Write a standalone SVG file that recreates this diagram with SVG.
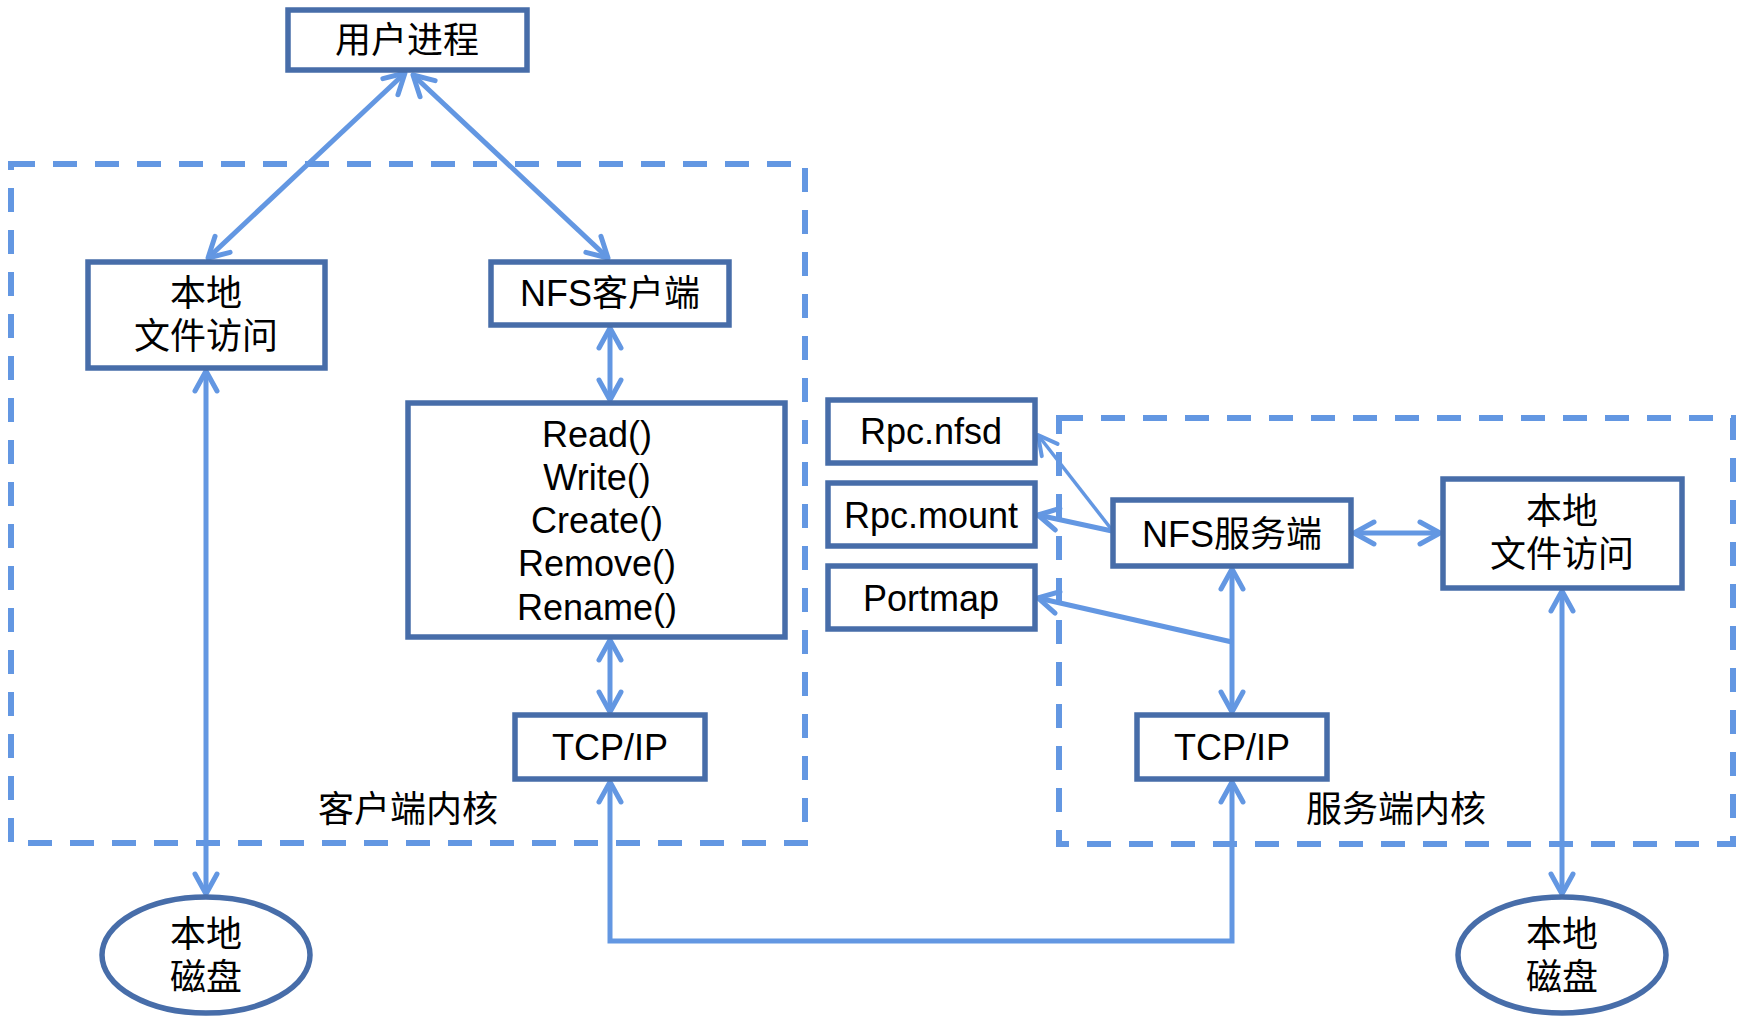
<svg xmlns="http://www.w3.org/2000/svg" width="1743" height="1021" viewBox="0 0 1743 1021">
<defs>
<style>
.box{fill:#fff;stroke:#476DA9;stroke-width:5.5}
.dash{fill:none;stroke:#6397E2;stroke-width:6;stroke-dasharray:24 18}
.c{fill:none;stroke:#6397E2;stroke-width:5}
.thin{fill:none;stroke:#6397E2;stroke-width:3.5}
text{font-family:"Liberation Sans","Noto Sans CJK SC",sans-serif;font-size:36px;fill:#000;text-anchor:middle}
</style>
<marker id="a" markerUnits="userSpaceOnUse" viewBox="-25 -15 30 30" refX="0" refY="0" markerWidth="30" markerHeight="30" orient="auto-start-reverse">
<path d="M-20,-11 L0,0 L-20,11" fill="none" stroke="#6397E2" stroke-width="5" stroke-linecap="round" stroke-linejoin="round"/>
</marker>
<marker id="b" markerUnits="userSpaceOnUse" viewBox="-25 -15 30 30" refX="0" refY="0" markerWidth="30" markerHeight="30" orient="auto-start-reverse">
<path d="M-19,-10 L0,0 L-19,10" fill="none" stroke="#6397E2" stroke-width="4" stroke-linecap="round" stroke-linejoin="round"/>
</marker>
</defs>
<rect width="1743" height="1021" fill="#fff"/>

<g id="client-kernel">
<rect class="dash" x="11" y="164" width="794" height="679"/>
<text x="408" y="822">客户端内核</text>
</g>
<g id="server-kernel">
<rect class="dash" x="1059" y="418" width="674" height="426"/>
<text x="1396" y="822">服务端内核</text>
</g>

<g id="connectors">
<line class="c" x1="405" y1="73" x2="208" y2="258" marker-start="url(#a)" marker-end="url(#a)"/>
<line class="c" x1="413" y1="75" x2="608" y2="258" marker-start="url(#a)" marker-end="url(#a)"/>
<line class="c" x1="610" y1="328" x2="610" y2="400" marker-start="url(#a)" marker-end="url(#a)"/>
<line class="c" x1="610" y1="640" x2="610" y2="712" marker-start="url(#a)" marker-end="url(#a)"/>
<path class="c" d="M610,782 V941 H1232 V782" marker-start="url(#a)" marker-end="url(#a)"/>
<line class="c" x1="1232" y1="569" x2="1232" y2="712" marker-start="url(#a)" marker-end="url(#a)"/>
<line class="c" x1="1232" y1="642" x2="1038" y2="598" marker-end="url(#a)"/>
<line class="c" x1="1112" y1="531" x2="1038" y2="515" marker-end="url(#a)"/>
<line class="thin" x1="1112" y1="530" x2="1038" y2="435" marker-end="url(#b)"/>
<line class="c" x1="1354" y1="533" x2="1440" y2="533" marker-start="url(#a)" marker-end="url(#a)"/>
<line class="c" x1="1562" y1="591" x2="1562" y2="894" marker-start="url(#a)" marker-end="url(#a)"/>
<line class="c" x1="206" y1="371" x2="206" y2="894" marker-start="url(#a)" marker-end="url(#a)"/>
</g>

<g id="user-process">
<rect class="box" x="288" y="10" width="239" height="60"/>
<text x="407" y="53">用户进程</text>
</g>
<g id="client-local-fs">
<rect class="box" x="88" y="262" width="237" height="106"/>
<text x="206" y="306">本地</text>
<text x="206" y="349">文件访问</text>
</g>
<g id="nfs-client">
<rect class="box" x="491" y="262" width="238" height="63"/>
<text x="610" y="306">NFS客户端</text>
</g>
<g id="ops">
<rect class="box" x="408" y="403" width="377" height="234"/>
<text x="597" y="447">Read()</text>
<text x="597" y="490">Write()</text>
<text x="597" y="533">Create()</text>
<text x="597" y="576">Remove()</text>
<text x="597" y="620">Rename()</text>
</g>
<g id="client-tcpip">
<rect class="box" x="515" y="715" width="190" height="64"/>
<text x="610" y="760">TCP/IP</text>
</g>
<g id="client-disk">
<ellipse class="box" cx="206" cy="955" rx="104" ry="58"/>
<text x="206" y="947">本地</text>
<text x="206" y="990">磁盘</text>
</g>

<g id="rpc-nfsd">
<rect class="box" x="828" y="400" width="207" height="63"/>
<text x="931" y="444">Rpc.nfsd</text>
</g>
<g id="rpc-mount">
<rect class="box" x="828" y="483" width="207" height="63"/>
<text x="931" y="528">Rpc.mount</text>
</g>
<g id="portmap">
<rect class="box" x="828" y="566" width="207" height="63"/>
<text x="931" y="611">Portmap</text>
</g>
<g id="nfs-server">
<rect class="box" x="1113" y="500" width="238" height="66"/>
<text x="1232" y="547">NFS服务端</text>
</g>
<g id="server-local-fs">
<rect class="box" x="1443" y="479" width="239" height="109"/>
<text x="1562" y="524">本地</text>
<text x="1562" y="567">文件访问</text>
</g>
<g id="server-tcpip">
<rect class="box" x="1137" y="715" width="190" height="64"/>
<text x="1232" y="760">TCP/IP</text>
</g>
<g id="server-disk">
<ellipse class="box" cx="1562" cy="955" rx="104" ry="58"/>
<text x="1562" y="947">本地</text>
<text x="1562" y="990">磁盘</text>
</g>
</svg>
